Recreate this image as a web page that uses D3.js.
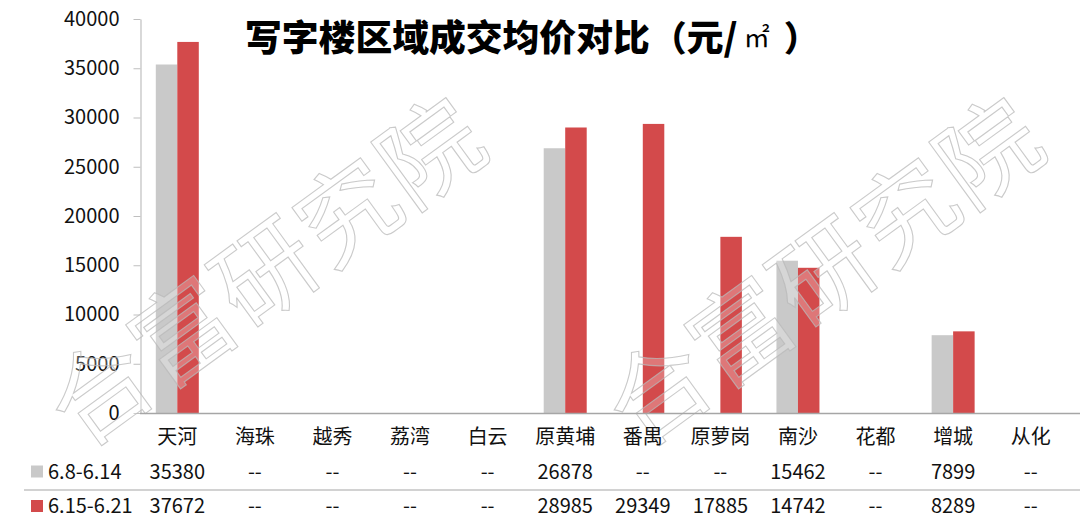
<!DOCTYPE html>
<html>
<head>
<meta charset="utf-8">
<script src="https://cdn.jsdelivr.net/npm/d3@7/dist/d3.min.js"></script>
<style>
  html, body { margin: 0; padding: 0; background: #fff; }
  svg { display: block; }
  text { font-family: "Noto Sans CJK SC", "Noto Sans", sans-serif; }
</style>
</head>
<body>
<svg id="chart" width="1080" height="524"></svg>
<script>
// ---- data ----
const categories = ["天河", "海珠", "越秀", "荔湾", "白云", "原黄埔", "番禺", "原萝岗", "南沙", "花都", "增城", "从化"];
const seriesNames = ["6.8-6.14", "6.15-6.21"];
const week1 = [35380, null, null, null, null, 26878, null, null, 15462, null, 7899, null];
const week2 = [37672, null, null, null, null, 28985, 29349, 17885, 14742, null, 8289, null];
const yTicks = [0, 5000, 10000, 15000, 20000, 25000, 30000, 35000, 40000];
const titleMain = "写字楼区域成交均价对比";
const titleUnitParts = ["（", "元/", "㎡", "）"];
const watermarkText = "合富研究院";

const colors = ["#c9c9c9", "#d34a4b"];
const series = [week1, week2];

const svg = d3.select("#chart");
const W = 1080;

const y = d3.scaleLinear().domain([0, 40000]).range([413, 19]);
const x = d3.scaleBand().domain(categories).range([138.5, 1069.5]).paddingInner(0).paddingOuter(0);
const barW = 21.5;
const x1 = d3.scaleBand().domain(seriesNames)
  .range([x.bandwidth() / 2 - barW, x.bandwidth() / 2 + barW]).padding(0);

// y axis
const yAxis = svg.append("g").attr("transform", "translate(140.5,0)")
  .call(d3.axisLeft(y).tickValues(yTicks).tickSize(7).tickSizeOuter(0).tickPadding(14).tickFormat(d3.format("d")));
yAxis.select(".domain").attr("stroke", "#bfbfbf").attr("stroke-width", 1.2);
yAxis.selectAll(".tick line").attr("stroke", "#bfbfbf");
yAxis.selectAll(".tick text").attr("font-size", 20).attr("fill", "#111")
  .attr("font-family", "\"Noto Sans CJK SC\", sans-serif");

// bars
const groups = svg.append("g");
series.forEach((vals, si) => {
  groups.selectAll(".bar" + si)
    .data(categories.map((c, i) => ({ c, v: vals[i] })).filter(d => d.v != null))
    .enter().append("rect")
    .attr("x", d => x(d.c) + x1(seriesNames[si]))
    .attr("width", x1.bandwidth())
    .attr("y", d => y(d.v))
    .attr("height", d => y(0) - y(d.v))
    .attr("fill", colors[si]);
});

// watermark
[[262, 266], [820, 266]].forEach(([cx, cy]) => {
  svg.append("text")
    .attr("transform", `translate(${cx},${cy}) rotate(-36)`)
    .attr("text-anchor", "middle")
    .attr("dominant-baseline", "central")
    .attr("font-size", 100)
    .attr("letter-spacing", 2)
    .attr("fill", "#ffffff").attr("fill-opacity", 0.25)
    .attr("stroke", "#b8b8b8").attr("stroke-opacity", 0.75).attr("stroke-width", 1.1)
    .text(watermarkText);
});

// x axis line and labels
svg.append("line").attr("x1", 140).attr("x2", W).attr("y1", 413.5).attr("y2", 413.5)
  .attr("stroke", "#a6a6a6").attr("stroke-width", 1.3);
const xAxis = svg.append("g").attr("transform", "translate(0,413)")
  .call(d3.axisBottom(x).tickSize(0).tickPadding(0));
xAxis.select(".domain").remove();
xAxis.selectAll(".tick text").attr("y", 24).attr("dy", "0.35em")
  .attr("font-size", 20).attr("fill", "#111")
  .attr("font-family", "\"Noto Sans CJK SC\", sans-serif");

// data table
const rowY = [471.5, 506];
svg.append("line").attr("x1", 24).attr("x2", W).attr("y1", 490).attr("y2", 490)
  .attr("stroke", "#a6a6a6").attr("stroke-width", 1.2);
series.forEach((vals, si) => {
  svg.append("rect").attr("x", 31).attr("y", rowY[si] - 6).attr("width", 12).attr("height", 12)
    .attr("fill", colors[si]);
  svg.append("text").attr("x", 48).attr("y", rowY[si]).attr("dy", "0.35em")
    .attr("font-size", 20).attr("fill", "#111").text(seriesNames[si]);
  svg.append("g").selectAll("text").data(categories.map((c, i) => ({ c, v: vals[i] })))
    .enter().append("text")
    .attr("x", d => x(d.c) + x.bandwidth() / 2)
    .attr("y", rowY[si]).attr("dy", "0.35em")
    .attr("text-anchor", "middle")
    .attr("font-size", 20).attr("fill", "#111")
    .text(d => d.v == null ? "--" : String(d.v));
});

// title: main part fitted to the reference width, unit parts placed after it
const tMain = svg.append("text").attr("x", 245).attr("y", 51)
  .attr("font-size", 40).attr("font-weight", 900).attr("fill", "#000").text(titleMain);
const bb = tMain.node().getBBox();
const fs = 40 * 405 / bb.width;
tMain.attr("font-size", fs);
const bb2 = tMain.node().getBBox();
const endX = bb2.x + bb2.width;
const unit = svg.append("text").attr("x", endX + 2).attr("y", 51)
  .attr("font-size", fs).attr("font-weight", 900).attr("fill", "#000");
unit.append("tspan").attr("font-size", fs * 0.95).text(titleUnitParts[0]);
unit.append("tspan").attr("dx", 0).text(titleUnitParts[1]);
unit.append("tspan").attr("font-size", 26).attr("font-weight", 400).attr("dx", 6).attr("dy", -4).text(titleUnitParts[2]);
unit.append("tspan").attr("dx", 14).attr("dy", 4).attr("font-size", fs * 0.95).text(titleUnitParts[3]);
</script>
</body>
</html>
